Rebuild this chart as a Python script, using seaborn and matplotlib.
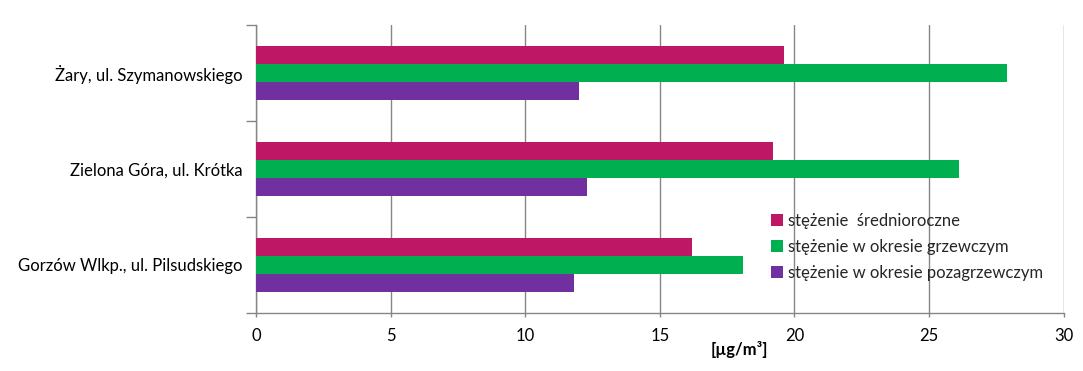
import matplotlib
matplotlib.use("Agg")
import matplotlib.pyplot as plt
import seaborn as sns
import pandas as pd
from matplotlib.ticker import FixedLocator

stations = ["Żary, ul. Szymanowskiego", "Zielona Góra, ul. Krótka", "Gorzów Wlkp., ul. Pilsudskiego"]
series = ["stężenie  średnioroczne", "stężenie w okresie grzewczym", "stężenie w okresie pozagrzewczym"]
annual = [19.6, 19.2, 16.2]
heating = [27.9, 26.1, 18.1]
nonheating = [12.0, 12.3, 11.8]
colors = ["#BE1766", "#00B050", "#7030A0"]
xticks = [0, 5, 10, 15, 20, 25, 30]

rows = []
for s, vals in zip(series, [annual, heating, nonheating]):
    for st, v in zip(stations, vals):
        rows.append({"station": st, "series": s, "value": v})
df = pd.DataFrame(rows)

sns.set_theme(style="white")
plt.rcParams["font.family"] = ["Lato", "DejaVu Sans"]

fig = plt.figure(figsize=(10.83, 3.71), dpi=100)
ax = fig.add_axes([0.2364, 0.1571, 0.982 - 0.2364, 0.9326 - 0.1571])

sns.barplot(data=df, x="value", y="station", hue="series", order=stations,
            hue_order=series, palette=colors, orient="h", width=0.5625,
            saturation=1, ax=ax, edgecolor="none", linewidth=0, zorder=3)

ax.set_xlim(0, 30)
ax.set_ylim(2.5, -0.5)
ax.set_xticks(xticks)
ax.set_xticklabels([str(t) for t in xticks], fontsize=12, color="black")
ax.grid(axis="x", color="#868686", linewidth=1, zorder=0)
ax.grid(axis="y", visible=False)
for side in ["top", "right"]:
    ax.spines[side].set_visible(False)
for side in ["left", "bottom"]:
    ax.spines[side].set_color("#868686")
    ax.spines[side].set_linewidth(1)

ax.tick_params(axis="y", which="major", length=0, labelsize=12, labelcolor="black", pad=10)
ax.yaxis.set_minor_locator(FixedLocator([-0.5, 0.5, 1.5, 2.5]))
ax.tick_params(axis="y", which="minor", length=7, color="#868686", width=1, left=True)
ax.tick_params(axis="x", which="major", length=3, color="#868686", width=1, bottom=True, pad=8)

ax.set_ylabel("")
ax.set_xlabel("[µg/m³]", fontsize=12, fontweight="bold", color="black")
ax.xaxis.set_label_coords(0.598, -0.10)

leg = ax.legend(loc="upper left", bbox_to_anchor=(0.63, 0.37), frameon=False,
                fontsize=12, handlelength=0.7, handleheight=0.7, handletextpad=0.3,
                labelspacing=0.6, borderaxespad=0)

fig.savefig("out.png", dpi=100)
